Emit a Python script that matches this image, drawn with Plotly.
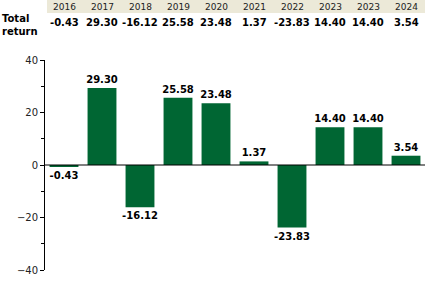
import plotly.graph_objects as go

years = ["2016", "2017", "2018", "2019", "2020", "2021", "2022", "2023", "2023", "2024"]
returns = [-0.43, 29.30, -16.12, 25.58, 23.48, 1.37, -23.83, 14.40, 14.40, 3.54]
row_label = "Total<br>return"
y_ticks = [-40, -20, 0, 20, 40]

W, H = 425, 288
ML, MR, MT, MB = 45, 0, 60, 18
PH = H - MT - MB
PW = W - ML - MR

def py(pix):
    return (H - MB - pix) / PH

def px(pix):
    return (pix - ML) / PW

xs = list(range(len(years)))
labels = [f"{v:.2f}" for v in returns]

fig = go.Figure()
fig.add_trace(go.Bar(
    x=xs, y=returns, width=0.76,
    marker=dict(color="#006633", line=dict(width=0)),
    text=labels, textposition="outside", constraintext="none",
    textfont=dict(family="DejaVu Sans", size=10, color="#000000", weight="bold"),
    cliponaxis=False,
))

shapes = [
    dict(type="rect", xref="paper", yref="paper", x0=px(47), x1=1.0, y0=py(13), y1=py(0),
         fillcolor="#ECE9D8", line=dict(width=0), layer="below"),
    dict(type="line", xref="paper", yref="y", x0=0, x1=1, y0=0, y1=0,
         line=dict(color="#000000", width=1)),
]

ann = []
for i, (yr, lab) in enumerate(zip(years, labels)):
    ann.append(dict(x=i, xref="x", y=py(7), yref="paper", text=yr, showarrow=False,
                    xanchor="center", yanchor="middle",
                    font=dict(family="DejaVu Sans", size=9, color="#222222")))
    ann.append(dict(x=i, xref="x", y=py(23), yref="paper", text=lab, showarrow=False,
                    xanchor="center", yanchor="middle",
                    font=dict(family="DejaVu Sans", size=10, color="#000000", weight="bold")))
ann.append(dict(x=px(0), xref="paper", y=py(25), yref="paper", text=row_label, showarrow=False,
                xanchor="left", yanchor="middle", align="left",
                font=dict(family="DejaVu Sans", size=10, color="#000000", weight="bold")))

fig.update_layout(
    width=W, height=H,
    margin=dict(l=ML, r=MR, t=MT, b=MB, pad=0),
    paper_bgcolor="white", plot_bgcolor="white",
    showlegend=False,
    shapes=shapes, annotations=ann,
    xaxis=dict(range=[-0.5, len(years) - 0.5], showticklabels=False, showgrid=False,
               zeroline=False, showline=False, ticks=""),
    yaxis=dict(range=[-40, 40], tickvals=y_ticks, showgrid=False, zeroline=False,
               showline=True, linecolor="#000000", linewidth=1,
               ticks="outside", ticklen=4, tickcolor="#000000",
               minor=dict(ticks="outside", dtick=10, ticklen=3, tickcolor="#000000"),
               tickfont=dict(family="DejaVu Sans", size=10, color="#222222")),
)

fig.write_html("out.html")
